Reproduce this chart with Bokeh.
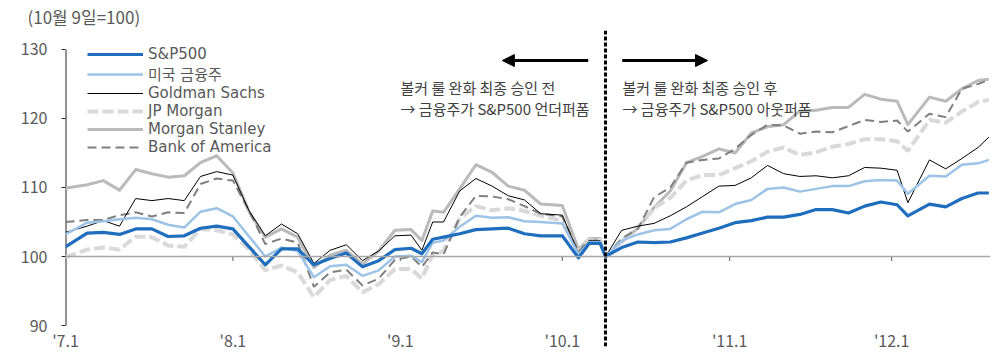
import pandas as pd
from bokeh.plotting import figure
from bokeh.models import (Range1d, FixedTicker, Span, Label, Arrow, NormalHead,
                          Legend, LegendItem)
from bokeh.embed import file_html
from bokeh.resources import INLINE

# ---------------- data ----------------
dates = [
    "2019-07-01", "2019-07-05", "2019-07-08", "2019-07-11", "2019-07-14", "2019-07-17", "2019-07-20",
    "2019-07-23", "2019-07-26", "2019-07-29",
    "2019-08-01", "2019-08-04", "2019-08-07", "2019-08-10", "2019-08-13", "2019-08-16", "2019-08-19",
    "2019-08-22", "2019-08-25", "2019-08-28", "2019-08-31",
    "2019-09-03", "2019-09-05", "2019-09-07", "2019-09-09", "2019-09-12", "2019-09-15", "2019-09-18",
    "2019-09-21", "2019-09-24", "2019-09-27",
    "2019-10-01", "2019-10-04", "2019-10-06", "2019-10-08", "2019-10-09", "2019-10-12", "2019-10-15",
    "2019-10-18", "2019-10-21", "2019-10-24", "2019-10-27", "2019-10-30",
    "2019-11-02", "2019-11-05", "2019-11-08", "2019-11-11", "2019-11-14", "2019-11-17", "2019-11-20",
    "2019-11-23", "2019-11-26", "2019-11-29",
    "2019-12-02", "2019-12-04", "2019-12-08", "2019-12-11", "2019-12-14", "2019-12-17", "2019-12-19",
]

sp500 = [101.4, 103.4, 103.5, 103.2, 104.0, 104.0, 102.9, 103.0, 104.1, 104.4,
         104.0, 101.4, 98.8, 101.1, 101.1, 98.8, 99.7, 100.5, 98.5, 99.4, 101.0,
         101.2, 100.4, 102.5, 102.8, 103.3, 103.9, 104.0, 104.1, 103.3, 103.0,
         103.0, 99.8, 101.9, 101.9, 100.0, 101.3, 102.1, 102.0, 102.1, 102.7, 103.4, 104.1,
         104.9, 105.2, 105.7, 105.7, 106.1, 106.8, 106.8, 106.3, 107.3, 107.9,
         107.5, 105.9, 107.6, 107.2, 108.4, 109.2, 109.2]

us_financials = [103.2, 104.9, 105.1, 105.4, 105.6, 105.4, 104.6, 104.2, 106.5, 107.0,
                 105.8, 102.9, 100.0, 101.3, 100.8, 97.0, 98.6, 98.8, 97.2, 98.0, 100.0,
                 100.1, 99.2, 102.0, 102.3, 104.3, 105.9, 105.6, 105.7, 105.1, 105.0,
                 104.8, 100.3, 102.1, 102.1, 100.0, 102.3, 103.2, 103.8, 104.0, 105.4, 106.5, 106.4,
                 107.6, 108.2, 109.8, 110.0, 109.4, 109.8, 110.2, 110.2, 110.9, 111.1,
                 111.0, 109.1, 111.7, 111.6, 113.3, 113.5, 114.0]

goldman = [103.5, 104.4, 105.2, 104.4, 108.4, 108.1, 108.4, 108.1, 111.6, 112.3,
           111.8, 106.6, 103.0, 104.7, 103.3, 99.0, 100.9, 101.7, 99.4, 100.8, 103.0,
           103.1, 100.9, 105.0, 105.0, 109.5, 111.3, 110.2, 108.8, 108.2, 106.2,
           106.0, 100.5, 102.3, 102.3, 100.0, 103.8, 104.4, 104.8, 105.9, 107.2, 108.7, 110.2,
           110.3, 111.4, 113.2, 112.0, 111.6, 111.7, 111.4, 111.7, 112.9, 112.8,
           112.5, 107.8, 114.0, 112.7, 114.2, 115.8, 117.3]

jpmorgan = [99.9, 101.0, 101.3, 101.0, 102.9, 102.8, 101.6, 101.4, 104.0, 103.8,
            103.2, 101.0, 98.0, 98.7, 97.7, 94.1, 96.6, 97.2, 94.8, 96.0, 98.2,
            98.2, 96.8, 100.3, 100.8, 105.5, 107.3, 106.7, 107.0, 106.6, 105.9,
            105.2, 100.6, 102.4, 102.4, 100.0, 102.3, 104.2, 107.0, 108.5, 111.0, 111.8, 111.8,
            112.8, 113.8, 115.2, 115.8, 114.7, 115.1, 115.9, 116.3, 117.0, 117.0,
            116.7, 115.3, 119.8, 119.4, 121.0, 122.4, 122.7]

morgan_stanley = [109.9, 110.4, 111.0, 109.6, 112.6, 112.0, 111.5, 111.7, 113.6, 114.6,
                  112.1, 106.5, 102.8, 104.0, 102.8, 98.4, 100.2, 100.9, 98.9, 100.8, 103.8,
                  103.9, 102.3, 106.6, 106.4, 109.8, 113.3, 112.2, 110.2, 109.6, 107.6,
                  107.4, 101.0, 102.6, 102.6, 100.0, 102.1, 104.1, 107.1, 109.5, 113.6, 114.5, 115.6,
                  115.0, 117.9, 118.8, 119.1, 121.1, 121.2, 121.6, 121.6, 123.5, 122.8,
                  122.5, 119.1, 123.1, 122.5, 124.3, 125.5, 125.7]

bank_of_america = [105.0, 105.3, 105.3, 106.0, 106.4, 105.8, 106.4, 106.3, 110.5, 111.3,
                   111.0, 106.6, 101.8, 102.6, 102.0, 95.6, 97.7, 98.1, 95.8, 96.8, 99.5,
                   100.0, 98.5, 100.6, 100.3, 105.7, 108.8, 108.7, 108.3, 107.3, 106.2,
                   105.8, 100.7, 102.3, 102.3, 100.0, 102.6, 104.0, 108.6, 110.0, 113.6, 114.0, 114.2,
                   115.6, 117.6, 119.1, 119.0, 117.8, 118.1, 118.0, 118.9, 119.8, 119.5,
                   119.7, 118.1, 120.7, 120.2, 124.3, 125.0, 125.6]

series_names = ["S&P500", "미국 금융주", "Goldman Sachs", "JP Morgan", "Morgan Stanley", "Bank of America"]

tick_dates = ["2019-07-01", "2019-08-01", "2019-09-01", "2019-10-01", "2019-11-01", "2019-12-01"]
tick_labels = ["'7.1", "'8.1", "'9.1", "'10.1", "'11.1", "'12.1"]
y_ticks = [90, 100, 110, 120, 130]
base_date = "2019-10-09"
end_date = "2019-12-19"

title_text = "(10월 9일=100)"
note_before = ["볼커 룰 완화 최종 승인 전", "→ 금융주가 S&P500 언더퍼폼"]
note_after = ["볼커 룰 완화 최종 승인 후", "→ 금융주가 S&P500 아웃퍼폼"]

# ---------------- helpers ----------------
start = pd.Timestamp(dates[0])
def day(d):
    return (pd.Timestamp(d) - start).days

x = [day(d) for d in dates]
xt = [day(d) for d in tick_dates]
xb = day(base_date)
xe = day(end_date)

KR = "Noto Sans CJK KR"
LEG_FONT = "DejaVu Sans, Noto Sans CJK KR"
GRAY_TXT = "#595959"
AXIS_C = "#262626"

p = figure(width=1000, height=356, output_backend="svg", toolbar_location=None,
           x_range=Range1d(0, xe + 0.3), y_range=Range1d(86.96, 132.75),
           min_border_left=65, min_border_right=10, min_border_top=30, min_border_bottom=10)
p.outline_line_color = None
p.xgrid.visible = False
p.ygrid.visible = False
p.background_fill_color = "white"
p.border_fill_color = "white"

# unit title
p.title.text = title_text
p.title.align = "left"
p.title.offset = -38
p.title.standoff = 3
p.title.text_font = KR
p.title.text_font_size = "17px"
p.title.text_font_style = "normal"
p.title.text_color = GRAY_TXT

# y axis (line drawn as a segment so that it only spans 90..130)
p.yaxis.ticker = FixedTicker(ticks=y_ticks)
p.yaxis.axis_line_color = None
p.yaxis.major_tick_line_color = AXIS_C
p.yaxis.major_tick_out = 4
p.yaxis.major_tick_in = 0
p.yaxis.minor_tick_line_color = None
p.yaxis.major_label_standoff = 14
p.yaxis.major_label_text_font = KR
p.yaxis.major_label_text_font_size = "16px"
p.yaxis.major_label_text_color = GRAY_TXT
p.segment(x0=[0], x1=[0], y0=[min(y_ticks)], y1=[max(y_ticks)], line_color=AXIS_C, line_width=2)

# x axis (labels only at bottom)
p.xaxis.ticker = FixedTicker(ticks=xt)
p.xaxis.major_label_overrides = {t: l for t, l in zip(xt, tick_labels)}
p.xaxis.axis_line_color = None
p.xaxis.major_tick_line_color = None
p.xaxis.minor_tick_line_color = None
p.xaxis.major_tick_out = 0
p.xaxis.major_tick_in = 0
p.xaxis.major_label_standoff = -19
p.xaxis.major_label_text_font = KR
p.xaxis.major_label_text_font_size = "16px"
p.xaxis.major_label_text_color = GRAY_TXT

# baseline at 100 with small ticks
p.add_layout(Span(location=100, dimension="width", line_color="#a6a6a6", line_width=1.5))
p.segment(x0=xt[1:], x1=xt[1:], y0=[100] * (len(xt) - 1), y1=[99.35] * (len(xt) - 1),
          line_color="#595959", line_width=1)

# series
r_ms = p.line(x, morgan_stanley, line_color="#bababa", line_width=3, line_join="round")
r_jpm = p.line(x, jpmorgan, line_color="#d9d9d9", line_width=4, line_dash="11 4")
r_bac = p.line(x, bank_of_america, line_color="#7f7f7f", line_width=2, line_dash="9 5")
r_gs = p.line(x, goldman, line_color="#000000", line_width=1)
r_fin = p.line(x, us_financials, line_color="#9dc3e6", line_width=2.5, line_join="round")
r_sp = p.line(x, sp500, line_color="#1f6ebd", line_width=3.2, line_join="round")

legend = Legend(items=[LegendItem(label=n, renderers=[r]) for n, r in
                       zip(series_names, [r_sp, r_fin, r_gs, r_jpm, r_ms, r_bac])],
                location=(22, 190), orientation="vertical",
                glyph_width=56, glyph_height=18, label_height=18, spacing=0,
                padding=0, margin=0, label_standoff=5,
                label_text_font=LEG_FONT, label_text_font_size="15px", label_text_color=GRAY_TXT,
                background_fill_alpha=0, border_line_color=None)
p.add_layout(legend)

# event line (Oct 9)
p.add_layout(Span(location=xb, dimension="height", line_color="black", line_width=3,
                  line_dash="4 2"))

# arrows
y_arrow = 128.4
p.add_layout(Arrow(end=NormalHead(size=12, fill_color="black", line_color="black"),
                   x_start=xb - 3.2, x_end=xb - 19.1, y_start=y_arrow, y_end=y_arrow,
                   line_color="black", line_width=3))
p.add_layout(Arrow(end=NormalHead(size=12, fill_color="black", line_color="black"),
                   x_start=xb + 3.1, x_end=xb + 18.9, y_start=y_arrow, y_end=y_arrow,
                   line_color="black", line_width=3))

# notes
for i, (tb, ta) in enumerate(zip(note_before, note_after)):
    yy = 124.5 - 3.05 * i
    p.add_layout(Label(x=xb, y=yy, x_offset=-205, text=tb, text_baseline="middle",
                       text_font=KR, text_font_size="15px", text_color="#404040"))
    p.add_layout(Label(x=xb, y=yy, x_offset=17, text=ta, text_baseline="middle",
                       text_font=KR, text_font_size="15px", text_color="#404040"))

open("out.html", "w").write(file_html(p, INLINE))
